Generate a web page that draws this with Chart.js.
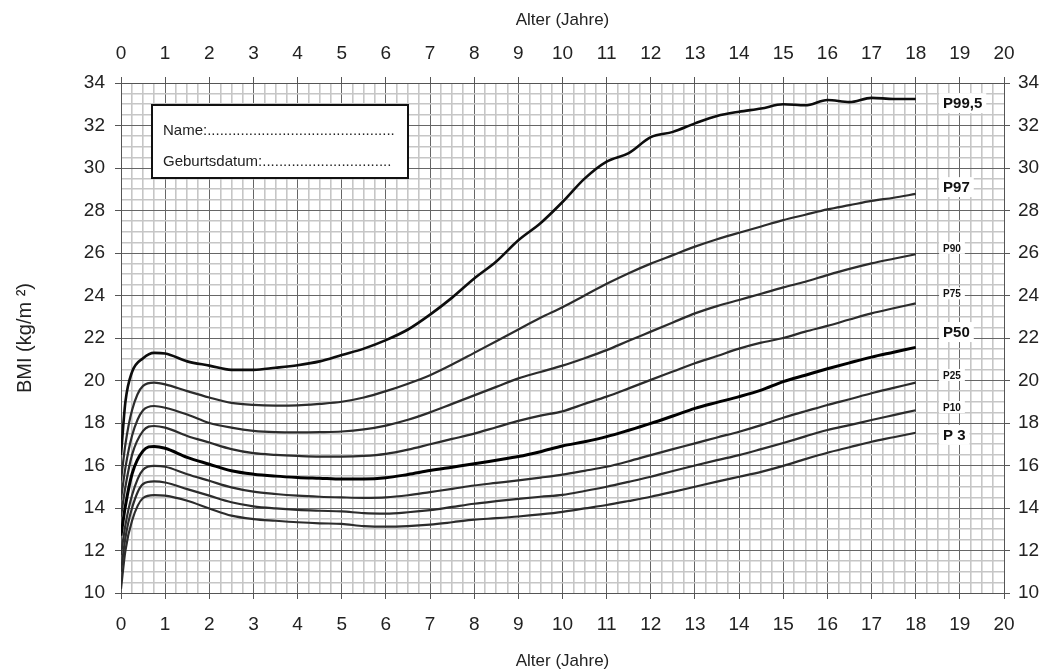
<!DOCTYPE html>
<html><head><meta charset="utf-8">
<script src="https://cdn.jsdelivr.net/npm/chart.js@4.4.1/dist/chart.umd.min.js"></script>
<style>html,body{margin:0;padding:0;background:#fff;}#wrap{width:1046px;height:672px;}</style>
</head><body><div id="wrap"><canvas id="c" width="1046" height="672"></canvas></div>
<script>
// ---- data ----
const ages = [0,0.1,0.25,0.5,0.75,1,1.5,2,2.5,3,3.5,4,4.5,5,5.5,6,6.5,7,7.5,8,8.5,9,9.5,10,10.5,11,11.5,12,12.5,13,13.5,14,14.5,15,15.5,16,16.5,17,17.5,18];
const p995 = [16.5,19.0,20.4,21.05,21.3, 21.27,20.9,20.7,20.5,20.5, 20.6,20.72,20.9,21.2,21.5, 21.9,22.4,23.1,23.9,24.8, 25.6,26.6,27.4,28.4,29.5, 30.3,30.7,31.45,31.7,32.1, 32.45,32.65,32.8,33.0,32.95, 33.2,33.1,33.3,33.25,33.25];
const p97 = [15.3,17.0,18.6,19.75,19.9, 19.82,19.5,19.2,18.95,18.85, 18.82,18.83,18.9,19.0,19.2, 19.5,19.85,20.25,20.75,21.3, 21.85,22.4,22.95,23.45,24.0, 24.55,25.05,25.5,25.9,26.3, 26.65,26.95,27.25,27.55,27.8, 28.05,28.25,28.45,28.6,28.78];
const p90 = [14.4,15.9,17.4,18.6,18.8, 18.72,18.4,18.0,17.78,17.63, 17.57,17.56,17.57,17.6,17.7, 17.88,18.15,18.5,18.9,19.3, 19.7,20.1,20.4,20.7,21.05, 21.43,21.87,22.3,22.73,23.16, 23.5,23.79,24.08,24.38,24.65, 24.96,25.25,25.51,25.73,25.94];
const p75 = [13.6,15.0,16.5,17.63,17.86, 17.78,17.39,17.08,16.77,16.58, 16.5,16.45,16.42,16.42,16.45, 16.55,16.75,17.0,17.25,17.5, 17.8,18.1,18.35,18.55,18.9, 19.24,19.63,20.03,20.42,20.81, 21.15,21.5,21.78,22.0,22.3, 22.57,22.87,23.16,23.4,23.63];
const p50 = [12.7,14.1,15.6,16.69,16.9, 16.81,16.38,16.06,15.75,15.59, 15.5,15.44,15.4,15.36,15.36, 15.42,15.58,15.76,15.92,16.08, 16.25,16.42,16.65,16.92,17.12, 17.36,17.66,17.98,18.33,18.69, 18.97,19.24,19.55,19.95,20.25, 20.55,20.83,21.1,21.33,21.56];
const p25 = [11.8,13.2,14.6,15.8,15.98, 15.94,15.59,15.28,14.97,14.77, 14.66,14.58,14.53,14.5,14.48, 14.5,14.6,14.75,14.9,15.06, 15.18,15.3,15.43,15.57,15.75, 15.94,16.2,16.49,16.77,17.04, 17.32,17.59,17.9,18.25,18.55, 18.85,19.12,19.4,19.65,19.9];
const p10 = [11.0,12.6,14.0,15.13,15.25, 15.2,14.89,14.58,14.27,14.08, 13.98,13.91,13.87,13.84,13.76, 13.74,13.8,13.9,14.05,14.2, 14.32,14.43,14.53,14.62,14.8, 15.0,15.23,15.47,15.74,16.0, 16.25,16.49,16.77,17.06,17.37, 17.67,17.9,18.14,18.37,18.6];
const p3 = [10.2,12.0,13.4,14.47,14.61, 14.58,14.34,13.98,13.64,13.48, 13.4,13.33,13.28,13.25,13.15, 13.12,13.15,13.22,13.33,13.45, 13.52,13.6,13.7,13.82,13.98, 14.14,14.33,14.53,14.76,15.0, 15.24,15.47,15.7,15.98,16.3, 16.6,16.86,17.12,17.33,17.54];
const seriesNames = ['P99,5','P97','P90','P75','P50','P25','P10','P 3'];
const yearTicks = [0,1,2,3,4,5,6,7,8,9,10,11,12,13,14,15,16,17,18,19,20];
const bmiTicks = [10,12,14,16,18,20,22,24,26,28,30,32,34];
const xTitle = 'Alter (Jahre)';
const yTitle = 'BMI (kg/m ²)';
const boxLines = ['Name:', 'Geburtsdatum:'];

// ---- styles / layout ----
const FONT = '"Liberation Sans", Arial, Helvetica, sans-serif';
const seriesList = [p995, p97, p90, p75, p50, p25, p10, p3];
const lineStyles = [
  {c:'#0d0d0d', w:2.6}, {c:'#2c2c2c', w:2.2}, {c:'#2c2c2c', w:2.2}, {c:'#2c2c2c', w:2.2},
  {c:'#000', w:3}, {c:'#2c2c2c', w:2.2}, {c:'#2c2c2c', w:2.2}, {c:'#2c2c2c', w:2.2}
];
const labelPos = [33.05, 29.1, 26.24, 24.1, 22.28, 20.26, 18.75, 17.44];
const labelBig = [true, true, false, false, true, false, false, true];

const datasets = seriesList.map((arr, i) => ({
  label: seriesNames[i],
  data: ages.map((a, k) => ({x: a, y: arr[k]})),
  borderColor: lineStyles[i].c,
  borderWidth: lineStyles[i].w,
  pointRadius: 0,
  fill: false,
  cubicInterpolationMode: 'monotone',
  xAxisID: 'x', yAxisID: 'y'
}));

const isMajorX = v => yearTicks.includes(v);
const isMajorY = v => bmiTicks.includes(v);

const gridX = {
  color: c => isMajorX(c.tick.value) ? '#666' : '#c6c6c6',
  lineWidth: c => isMajorX(c.tick.value) ? 1 : 1.6,
  tickColor: c => isMajorX(c.tick.value) ? '#555' : 'rgba(0,0,0,0)',
  tickLength: 6
};
const gridY = {
  color: c => isMajorY(c.tick.value) ? '#666' : '#c6c6c6',
  lineWidth: c => isMajorY(c.tick.value) ? 1 : 1.6,
  tickColor: c => isMajorY(c.tick.value) ? '#555' : 'rgba(0,0,0,0)',
  tickLength: 6
};
const tickFont = {family: FONT, size: 19};

const overlay = {
  id: 'overlay',
  afterDatasetsDraw(chart) {
    const {ctx, chartArea: a, scales: {x, y}} = chart;
    ctx.save();
    // name box
    const bx = a.left + 31, by = a.top + 22, bw = 256, bh = 73;
    ctx.fillStyle = '#fff';
    ctx.fillRect(bx, by, bw, bh);
    ctx.lineWidth = 2;
    ctx.strokeStyle = '#111';
    ctx.strokeRect(bx, by, bw, bh);
    ctx.fillStyle = '#222';
    ctx.font = '15px ' + FONT;
    ctx.textAlign = 'left';
    ctx.textBaseline = 'middle';
    const endX = bx + bw - 13;
    [26, 57].forEach((dy, i) => {
      let s = boxLines[i];
      while (ctx.measureText(s + '.').width < endX - (bx + 11)) s += '.';
      ctx.fillText(s, bx + 11, by + dy);
    });
    // percentile labels
    const lx = x.getPixelForValue(18.62);
    seriesNames.forEach((name, i) => {
      const big = labelBig[i];
      const size = big ? 15 : 10;
      ctx.font = 'bold ' + size + 'px ' + FONT;
      const w = ctx.measureText(name).width;
      const py = y.getPixelForValue(labelPos[i]);
      const h = big ? 20 : 12;
      ctx.fillStyle = '#fff';
      ctx.fillRect(lx - 4, py - h / 2, w + 8, h);
      ctx.fillStyle = '#111';
      ctx.fillText(name, lx, py + 1);
    });
    ctx.restore();
  }
};

new Chart(document.getElementById('c'), {
  type: 'line',
  data: {datasets},
  options: {
    responsive: false,
    devicePixelRatio: 1,
    animation: false,
    layout: {padding: 0},
    plugins: {legend: {display: false}, tooltip: {enabled: false}},
    scales: {
      x: {
        type: 'linear', position: 'bottom', min: 0, max: 20,
        afterBuildTicks: s => { s.ticks = []; for (let v = 0; v <= 80; v++) s.ticks.push({value: v / 4}); },
        afterFit: s => { s.height = 79; },
        ticks: {autoSkip: false, maxRotation: 0, padding: 14, color: '#222', font: tickFont,
          callback: v => isMajorX(v) ? String(v) : ''},
        grid: gridX,
        border: {color: '#555', width: 1},
        title: {display: true, text: xTitle, color: '#222', font: {family: FONT, size: 17}, padding: {top: 7, bottom: 0}}
      },
      x2: {
        type: 'linear', position: 'top', min: 0, max: 20,
        afterBuildTicks: s => { s.ticks = []; for (let v = 0; v <= 80; v++) s.ticks.push({value: v / 4}); },
        afterFit: s => { s.height = 83; },
        ticks: {autoSkip: false, maxRotation: 0, padding: 12, color: '#222', font: tickFont,
          callback: v => isMajorX(v) ? String(v) : ''},
        grid: Object.assign({}, gridX, {drawOnChartArea: false}),
        border: {color: '#555', width: 1},
        title: {display: true, text: xTitle, color: '#222', font: {family: FONT, size: 17}, padding: {top: 10, bottom: 0}}
      },
      y: {
        type: 'linear', position: 'left', min: 10, max: 34,
        afterBuildTicks: s => { s.ticks = []; for (let v = 20; v <= 68; v++) s.ticks.push({value: v / 2}); },
        afterFit: s => { s.width = 121; },
        ticks: {autoSkip: false, padding: 10, color: '#222', font: tickFont,
          callback: v => isMajorY(v) ? String(v) : ''},
        grid: gridY,
        border: {color: '#555', width: 1},
        title: {display: true, text: yTitle, color: '#222', font: {family: FONT, size: 20}, padding: {top: 13, bottom: 0}}
      },
      y2: {
        type: 'linear', position: 'right', min: 10, max: 34,
        afterBuildTicks: s => { s.ticks = []; for (let v = 20; v <= 68; v++) s.ticks.push({value: v / 2}); },
        afterFit: s => { s.width = 42; },
        ticks: {autoSkip: false, padding: 8, color: '#222', font: tickFont,
          callback: v => isMajorY(v) ? String(v) : ''},
        grid: Object.assign({}, gridY, {drawOnChartArea: false}),
        border: {color: '#555', width: 1}
      }
    }
  },
  plugins: [overlay]
});
</script>
</body></html>
